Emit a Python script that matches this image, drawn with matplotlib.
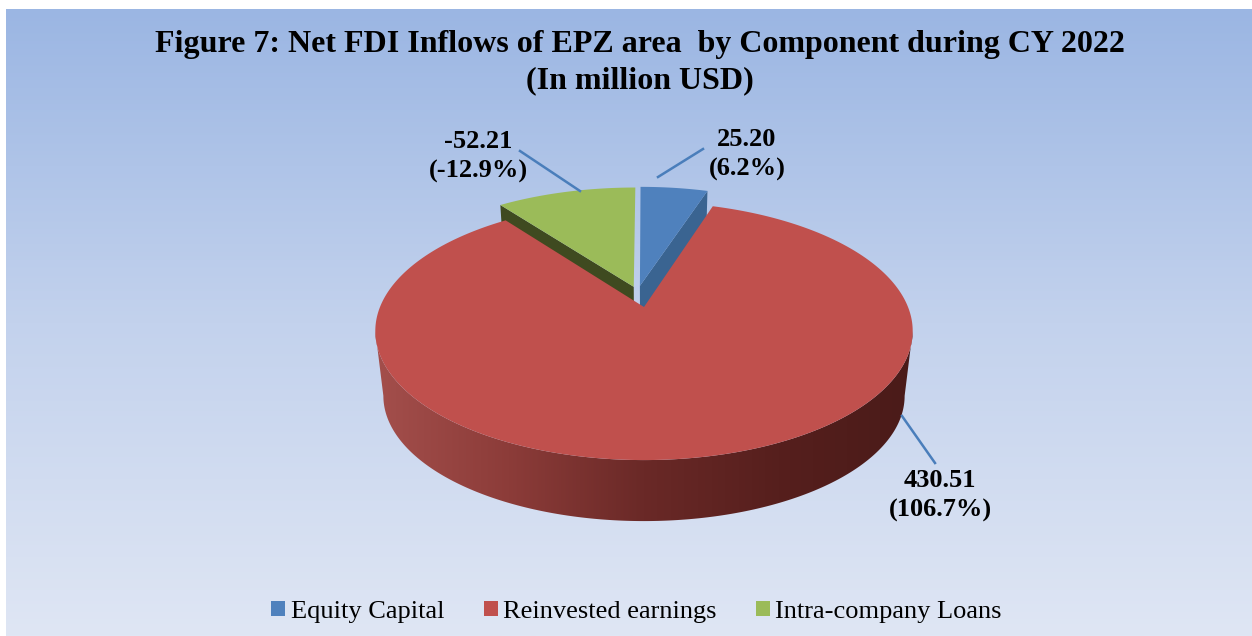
import numpy as np
import matplotlib
matplotlib.use("Agg")
import matplotlib.pyplot as plt
from matplotlib.colors import LinearSegmentedColormap
from matplotlib.patches import Patch, Polygon

# -- data --
components = ["Equity Capital", "Reinvested earnings", "Intra-company Loans"]
values = [25.20, 430.51, -52.21]
shares = [6.2, 106.7, -12.9]

# -- style --
colors = ["#4f81bd", "#c0504d", "#9bbb59"]
side_colors = ["#3a6491", "#6e2b29", "#3f4a20"]
offsets = [(-0.016, 0.175), (0.0, 0.0), (-0.04, 0.167)]
label_pos = [(747, 154.5), (940, 495.5), (478, 156.5)]
leader_pos = [((658, 177), (703, 149)), ((902, 416), (935, 463)), ((580, 191), (520, 151))]

# camera for the tilted pie, in pixels
CX, CY = 644, 307
RX, RY = 264, 124.6
PERSP = 0.186
DEPTH = 65.6
BOTTOM_SCALE = 0.97

W, H = 1252, 636
FONT = "Liberation Serif"


def project(u, v, bottom=False):
    w = 1 + PERSP * v
    s = BOTTOM_SCALE if bottom else 1.0
    d = DEPTH if bottom else 0.0
    return CX + RX * s * u / w, CY - RY * s * v / w + d


def arc(start, end, off, bottom=False, n=200):
    # angles are clockwise from 12 o'clock, degrees
    t = np.radians(np.linspace(start, end, n))
    return project(off[0] + np.sin(t), off[1] + np.cos(t), bottom)


fig = plt.figure(figsize=(W / 100, H / 100), dpi=100)
ax = fig.add_axes([0, 0, 1, 1])
ax.axis("off")

# background panel
bg = LinearSegmentedColormap.from_list("bg", ["#9bb6e3", "#c3d2ed", "#dfe6f4"])
ax.imshow(np.linspace(0, 1, 256)[:, None], cmap=bg, extent=(6, W, H, 9),
          aspect="auto", zorder=0)

# wedge angles from the size of each component
sizes = np.abs(values)
edges = np.concatenate([[0], np.cumsum(sizes) / sizes.sum() * 360])

# -- back wedges: cut faces first, then tops --
for i in (0, 2):
    off = offsets[i]
    corner = edges[1] if i == 0 else edges[2]
    t = np.radians(corner)
    pts = []
    for bottom in (False, True):
        pts.append(project(off[0], off[1], bottom))
        pts.append(project(off[0] + np.sin(t), off[1] + np.cos(t), bottom))
    face = [pts[0], pts[1], pts[3], pts[2]]
    ax.fill(*zip(*face), color=side_colors[i], lw=0, zorder=2)

    x, y = arc(edges[i], edges[i + 1], off)
    ax0, ay0 = project(off[0], off[1])
    ax.fill(np.r_[ax0, x], np.r_[ay0, y], color=colors[i], lw=0, zorder=3)

# -- big wedge: shaded outer wall (front part only), then top --
front_start = np.degrees(np.arccos(-PERSP))
tx, ty = arc(front_start, 360 - front_start, offsets[1], n=400)
bx, by = arc(front_start, 360 - front_start, offsets[1], bottom=True, n=400)
wall = Polygon(np.c_[np.r_[tx, bx[::-1]], np.r_[ty, by[::-1]]], closed=True,
               transform=ax.transData, facecolor="none", edgecolor="none")
ax.add_patch(wall)
shade = LinearSegmentedColormap.from_list(
    "wall", ["#a44f4c", "#8c3c39", "#6a2927", "#561f1d", "#4a1b19"])
grad = ax.imshow(np.linspace(0, 1, 256)[None, :], cmap=shade,
                 extent=(tx.min() - 2, tx.max() + 2, by.max() + 2, ty.min() - 2),
                 aspect="auto", zorder=4)
grad.set_clip_path(wall)

rx_, ry_ = arc(edges[1], edges[2], offsets[1], n=500)
ax0, ay0 = project(*offsets[1])
ax.fill(np.r_[ax0, rx_], np.r_[ay0, ry_], color=colors[1], lw=0, zorder=5)

ax.set_xlim(0, W)
ax.set_ylim(H, 0)

# -- labels and leaders --
for val, pct, pos, (p0, p1) in zip(values, shares, label_pos, leader_pos):
    ax.plot([p0[0], p1[0]], [p0[1], p1[1]], color="#4a7ebb", lw=1.8, zorder=6)
    ax.text(pos[0], pos[1], f"{val:.2f}\n({pct}%)", ha="center", va="center",
            fontsize=19, fontweight="bold", family=FONT, linespacing=1.37, zorder=7)

ax.text(640, 62.5, "Figure 7: Net FDI Inflows of EPZ area  by Component during CY 2022\n(In million USD)",
        ha="center", va="center", fontsize=23, fontweight="bold", family=FONT,
        linespacing=1.3, zorder=7)

handles = [Patch(facecolor=c, edgecolor="none") for c in colors]
ax.legend(handles, components, loc="center", bbox_to_anchor=(636.5 / W, 1 - 612 / H),
          bbox_transform=fig.transFigure, ncol=3, frameon=False,
          prop={"family": FONT, "size": 19}, handlelength=0.53, handleheight=0.53,
          handletextpad=0.2, columnspacing=1.5, borderpad=0)

fig.savefig("out.png", dpi=100, facecolor="white")
